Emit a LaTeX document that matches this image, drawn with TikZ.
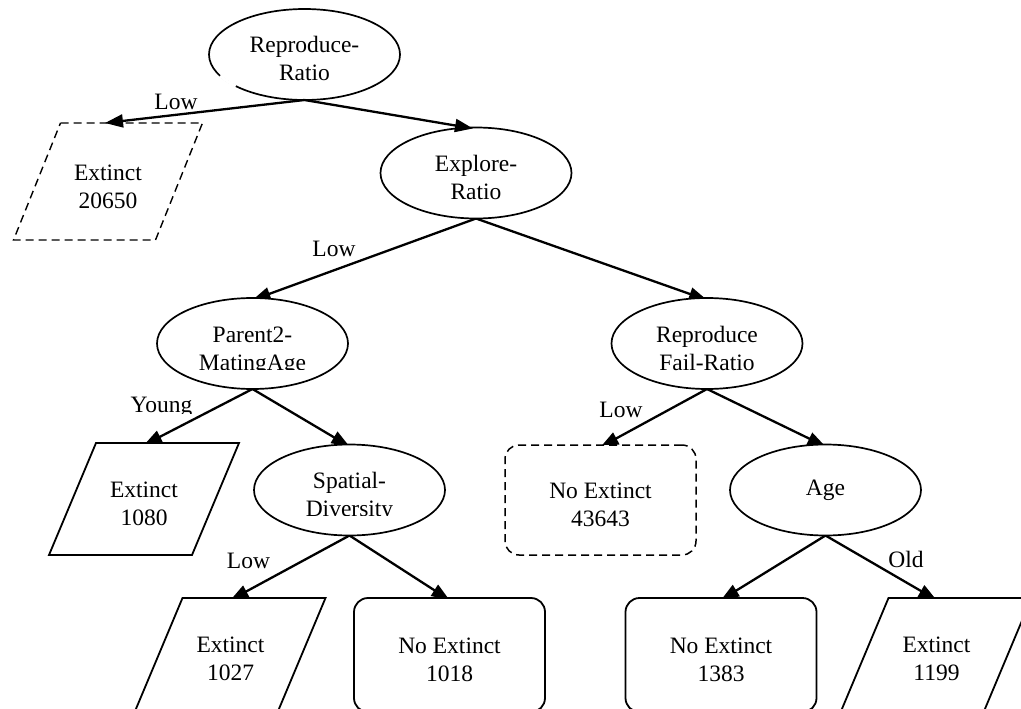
\documentclass[tikz,border=0pt]{standalone}
\usepackage{fontspec}
\setmainfont{Liberation Serif}
\usetikzlibrary{arrows.meta,calc,shapes.geometric}
\pgfdeclarelayer{bglayer}
\pgfdeclarelayer{midlayer}
\pgfsetlayers{bglayer,midlayer,main}
\newcommand\txl[1]{\rule[-1.5pt]{0pt}{28pt}\smash{#1}}
\newcommand\paral[2]{%
  \draw[#2] ($(#1.north west)+(23.5,0)$) -- ($(#1.north east)+(23.5,0)$)
    -- ($(#1.south east)+(-23.5,0)$) -- ($(#1.south west)+(-23.5,0)$) -- cycle;}
\begin{document}
\begin{tikzpicture}[x=1pt,y=-1pt,
  every node/.style={font=\fontsize{23.5}{28}\selectfont, inner sep=0pt, outer sep=0pt, align=center},
  dnode/.style={draw, fill=white, ellipse, line width=1.7pt, minimum width=191pt, minimum height=91pt},
  leafbox/.style={draw, fill=white, rounded corners=14pt, line width=1.8pt, minimum width=191pt, minimum height=114pt},
  paranode/.style={minimum width=143pt, minimum height=112pt},
  paraline/.style={draw, fill=white, line width=1.8pt},
  dashline/.style={dash pattern=on 8pt off 5pt},
  conn/.style={line width=2.3pt, -{Triangle[length=18pt,width=13pt]}},
  elabel/.style={anchor=base}
]
\useasboundingbox (0,0) rectangle (1021,709);
\begin{pgfonlayer}{bglayer}
  \fill[white] (0,0) rectangle (1021,709);
\end{pgfonlayer}
\clip (0,0) rectangle (1021,709);

% decision nodes
\node[dnode] (rr) at (304.5,54.5) {\txl{Reproduce-}\\\txl{Ratio}};
\draw[white, line width=3pt] ($(rr.center)+(152:95.5 and 45.5)$)
  arc[start angle=152, end angle=136, x radius=95.5, y radius=45.5];
\node[dnode] (er) at (476,173) {\txl{Explore-}\\\txl{Ratio}};
\node[dnode] (p2) at (252.5,343.5) {};
\begin{scope}
  \clip (140,290) rectangle (365,369.3);
  \node (p2t) at (p2.center) {\txl{Parent2-}\\\txl{MatingAge}};
\end{scope}
\node[dnode] (rfr) at (707,343.5) {\txl{Reproduce}\\\txl{Fail-Ratio}};
\node[dnode] (sd) at (349.5,490) {};
\begin{scope}
  \clip (240,440) rectangle (460,515.8);
  \node (sdt) at (sd.center) {\txl{Spatial-}\\\txl{Diversity}};
\end{scope}
\node[dnode] (age) at (825.5,490) {Age};

% leaves
\node[paranode, minimum width=142pt, minimum height=117pt] (e1) at (108,181.5) {\txl{Extinct}\\\txl{20650}};
\node[paranode] (e2) at (144,499) {\txl{Extinct}\\\txl{1080}};
\node[paranode] (e3) at (230.5,654) {\txl{Extinct}\\\txl{1027}};
\node[paranode] (e4) at (936.5,654) {\txl{Extinct}\\\txl{1199}};
\begin{pgfonlayer}{midlayer}
  \paral{e1}{paraline, dashline, line width=1.4pt}
  \paral{e2}{paraline}
  \paral{e3}{paraline}
  \paral{e4}{paraline}
\end{pgfonlayer}
\node[leafbox, dashline, line width=1.5pt, minimum height=110pt] (n1) at (600.5,500) {\txl{No Extinct}\\\txl{43643}};
\node[leafbox] (n2) at (449.5,655) {\txl{No Extinct}\\\txl{1018}};
\node[leafbox] (n3) at (721,655) {\txl{No Extinct}\\\txl{1383}};

% edge labels
\node[elabel] (l1) at (176,110) {Low};
\node[elabel] (l2) at (334,256.5) {Low};
\begin{scope}
  \clip (100,380) rectangle (230,413.3);
  \node[elabel] (l3) at (161.5,412.5) {Young};
\end{scope}
\node[elabel] (l4) at (621,417) {Low};
\node[elabel] (l5) at (248.5,568) {Low};
\node[elabel] (l6) at (906,567) {Old};

% connectors
\draw[conn] (rr.south) -- ($(e1.north)+(-3,0)$);
\draw[conn] (rr.south) -- ($(er.north)+(-3,1)$);
\begin{pgfonlayer}{bglayer}
  \draw[conn] (er.south) -- ($(p2.north)+(0,2)$);
  \draw[conn] (er.south) -- ($(rfr.north)+(0,2)$);
  \draw[conn] (p2.south) -- ($(e2.north)+(0,2)$);
  \draw[conn] (p2.south) -- ($(sd.north)+(0,2)$);
  \draw[conn] (rfr.south) -- ($(n1.north)+(0,2)$);
  \draw[conn] (rfr.south) -- ($(age.north)+(0,2)$);
  \draw[conn] (sd.south) -- ($(e3.north)+(0,2)$);
  \draw[conn] (sd.south) -- ($(n2.north)+(0,2)$);
  \draw[conn] (age.south) -- ($(n3.north)+(0,2)$);
  \draw[conn] (age.south) -- ($(e4.north)+(0,2)$);
\end{pgfonlayer}
\end{tikzpicture}
\end{document}
